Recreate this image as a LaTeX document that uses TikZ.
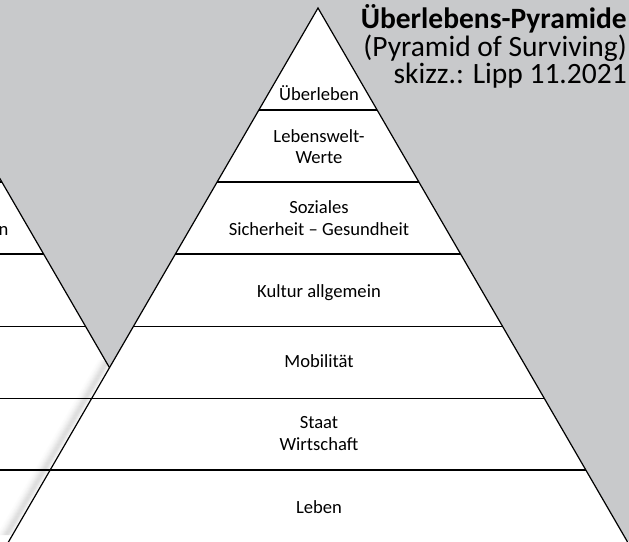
\documentclass[tikz,border=0pt]{standalone}
\usepackage{fontspec}
\setmainfont{Carlito}
\usetikzlibrary{calc}
\definecolor{bggray}{RGB}{200,201,203}
\begin{document}
\begin{tikzpicture}[x=1pt,y=-1pt,
  edge/.style={line width=1.2pt, draw=black, line join=miter},
  lbl/.style={anchor=base, inner sep=0pt, font=\fontsize{18.6}{22}\selectfont},
  ttl/.style={anchor=base east, inner sep=0pt, font=\fontsize{29.5}{27.5}\selectfont}]
\useasboundingbox (0,0) rectangle (629,541);
\clip (0,0) rectangle (629,541);
\fill[bggray] (0,0) rectangle (629,541);
% ---------- left (background) pyramid ----------
\coordinate (LA) at (-99,8);
\coordinate (LL) at (-419,560);
\coordinate (LR) at (221,560);
\filldraw[edge, fill=white] (LA) -- (LR) -- (LL) -- cycle;
\foreach \y in {110,182,254,326.5,398.3,470}{
  \pgfmathsetmacro\w{0.5797*(\y-8)}
  \draw[edge] ({-99-\w},\y) -- ({-99+\w},\y);
}
\node[lbl, anchor=base east] (lefttxt) at (8.5,235) {n};
% ---------- shadow of main pyramid on the left one ----------
\begin{scope}
  \clip (LA) -- (LR) -- (LL) -- cycle;
  \foreach \d/\o in {2/0.04,3/0.06,4/0.08,5/0.10,6/0.11,7/0.11,8/0.10,9/0.085,10/0.07,11/0.055,12/0.04,13/0.03,14/0.02,15/0.012,16/0.006}{
    \fill[black, opacity=\o] ({318-0.5797*(352)-\d},360) -- ({318-0.5797*(352)-\d+1},360) -- ({318-0.5797*(527)-\d+1},535) -- ({318-0.5797*(527)-\d},535) -- cycle;
  }
\end{scope}
% ---------- main pyramid ----------
\coordinate (A) at (318,8);
\coordinate (BL) at (-2,560);
\coordinate (BR) at (638,560);
\filldraw[edge, fill=white] (A) -- (BR) -- (BL) -- cycle;
\foreach \y in {110,182,254,326.5,398.3,470}{
  \pgfmathsetmacro\w{0.5797*(\y-8)}
  \draw[edge] ({318-\w},\y) -- ({318+\w},\y);
}
% ---------- labels ----------
\node[lbl] (l1)  at (319,100) {Überleben};
\node[lbl] (l2a) at (319,142) {Lebenswelt-};
\node[lbl] (l2b) at (319,163.5) {Werte};
\node[lbl] (l3a) at (319,213) {Soziales};
\node[lbl] (l3b) at (319,235) {Sicherheit – Gesundheit};
\node[lbl] (l4)  at (319,297) {Kultur allgemein};
\node[lbl] (l5)  at (319,367) {Mobilität};
\node[lbl] (l6a) at (319,428) {Staat};
\node[lbl] (l6b) at (319,450) {Wirtschaft};
\node[lbl] (l7)  at (319,513) {Leben};
% ---------- title ----------
\node[ttl, font=\fontsize{29.5}{27.5}\selectfont\bfseries] (t1) at (627,28.3) {Überlebens-Pyramide};
\node[ttl] (t2) at (627,56) {(Pyramid of Surviving)};
\node[ttl] (t3) at (627,83.3) {skizz.: Lipp 11.2021};
\end{tikzpicture}
\end{document}
